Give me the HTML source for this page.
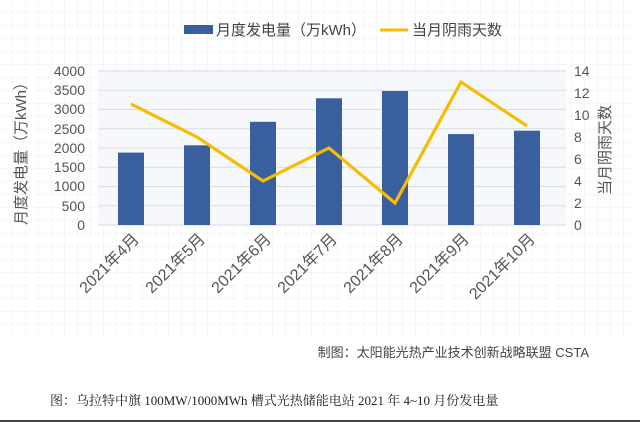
<!DOCTYPE html>
<html><head><meta charset="utf-8"><style>
html,body{margin:0;padding:0;background:#fff}
svg{display:block}
text{font-family:"Liberation Sans","Noto Sans CJK SC",sans-serif}
</style></head><body>
<svg width="640" height="422" viewBox="0 0 640 422">
<defs>
<pattern id="g" width="13" height="13" patternUnits="userSpaceOnUse">
<path d="M13 0V13M0 13H13" stroke="#e9eef5" stroke-width="1" fill="none"/>
</pattern>
</defs>
<rect x="0" y="0" width="640" height="340" fill="#fff"/>
<rect x="0" y="0" width="632" height="336" fill="url(#g)"/>
<rect x="98" y="70" width="468" height="156" fill="#f6f8fc"/>
<g stroke="#d9dde4" stroke-width="1">
<line x1="98" x2="566" y1="71" y2="71"/><line x1="98" x2="566" y1="90.25" y2="90.25"/>
<line x1="98" x2="566" y1="109.5" y2="109.5"/><line x1="98" x2="566" y1="128.75" y2="128.75"/>
<line x1="98" x2="566" y1="148" y2="148"/><line x1="98" x2="566" y1="167.25" y2="167.25"/>
<line x1="98" x2="566" y1="186.5" y2="186.5"/><line x1="98" x2="566" y1="205.75" y2="205.75"/>
<line x1="98" x2="566" y1="225" y2="225"/>
</g>
<g fill="#3a5f9e">
<rect x="118" y="152.6" width="26" height="72.4"/>
<rect x="184" y="145.3" width="26" height="79.7"/>
<rect x="250" y="121.8" width="26" height="103.2"/>
<rect x="316" y="98.3" width="26" height="126.7"/>
<rect x="382" y="91" width="26" height="134"/>
<rect x="448" y="134.1" width="26" height="90.9"/>
<rect x="514" y="130.7" width="26" height="94.3"/>
</g>
<polyline points="131,104 197,137 263,181 329,148 395,203 461,82 527,126" fill="none" stroke="#f6bd00" stroke-width="3.2" stroke-linejoin="miter"/>
<g font-size="14" fill="#555" text-anchor="end">
<text x="85" y="76">4000</text><text x="85" y="95">3500</text><text x="85" y="114">3000</text>
<text x="85" y="134">2500</text><text x="85" y="153">2000</text><text x="85" y="172">1500</text>
<text x="85" y="191">1000</text><text x="85" y="211">500</text><text x="85" y="230">0</text>
</g>
<g font-size="14" fill="#555" text-anchor="start">
<text x="574" y="76">14</text><text x="574" y="98">12</text><text x="574" y="120">10</text>
<text x="574" y="142">8</text><text x="574" y="164">6</text><text x="574" y="186">4</text>
<text x="574" y="208">2</text><text x="574" y="230">0</text>
</g>
<text transform="translate(26,150) rotate(-90)" font-size="15" fill="#555" text-anchor="middle">月度发电量（万kWh）</text>
<text transform="translate(610,150) rotate(-90)" font-size="15" fill="#555" text-anchor="middle">当月阴雨天数</text>
<g font-size="16" fill="#555" text-anchor="end">
<text transform="translate(140,240) rotate(-45)">2021年4月</text>
<text transform="translate(206,240) rotate(-45)">2021年5月</text>
<text transform="translate(272,240) rotate(-45)">2021年6月</text>
<text transform="translate(338,240) rotate(-45)">2021年7月</text>
<text transform="translate(404,240) rotate(-45)">2021年8月</text>
<text transform="translate(470,240) rotate(-45)">2021年9月</text>
<text transform="translate(536,240) rotate(-45)">2021年10月</text>
</g>
<rect x="184" y="25" width="29" height="9" fill="#3a5f9e"/>
<text x="216" y="35" font-size="15" fill="#444">月度发电量（万kWh）</text>
<line x1="380" y1="30" x2="408" y2="30" stroke="#f6bd00" stroke-width="3"/>
<text x="412" y="35" font-size="15" fill="#444">当月阴雨天数</text>
<text x="589" y="357" font-size="13" fill="#444" text-anchor="end">制图：太阳能光热产业技术创新战略联盟 CSTA</text>
<text x="50" y="405" font-size="13" fill="#222" style="font-family:'Liberation Serif','Noto Serif CJK SC',serif">图：乌拉特中旗 100MW/1000MWh 槽式光热储能电站 2021 年 4~10 月份发电量</text>
<rect x="0" y="420" width="640" height="2" fill="#444"/>
</svg>
</body></html>
